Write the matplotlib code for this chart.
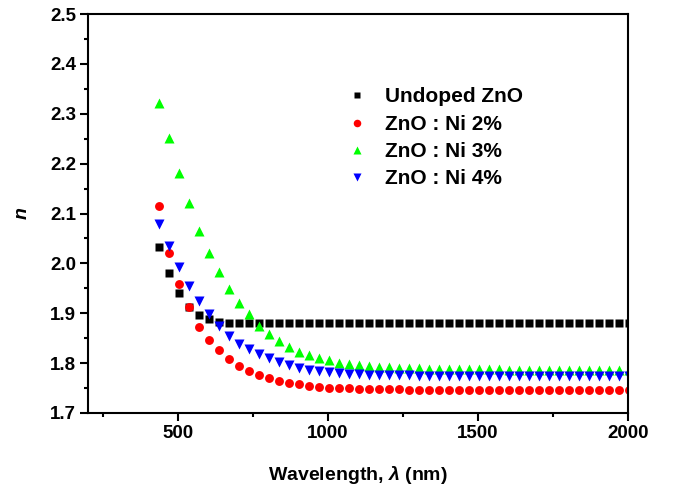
import matplotlib
matplotlib.use('Agg')
import matplotlib.pyplot as plt
from matplotlib.ticker import MultipleLocator

plt.rcParams['font.family'] = ['Liberation Sans', 'DejaVu Sans']
plt.rcParams['font.weight'] = 'bold'
plt.rcParams['mathtext.fontset'] = 'custom'
plt.rcParams['mathtext.it'] = 'Liberation Sans:bold:italic'
plt.rcParams['mathtext.rm'] = 'Liberation Sans:bold'

# wavelength (nm)
wavelength = [437, 470, 503, 537, 570, 603, 637, 670, 703, 737, 770, 803,
              837, 870, 903, 937, 970, 1003, 1037, 1070, 1103, 1137, 1170, 1203,
              1237, 1270, 1303, 1337, 1370, 1403, 1437, 1470, 1503, 1537, 1570, 1603,
              1637, 1670, 1703, 1737, 1770, 1803, 1837, 1870, 1903, 1937, 1970, 2003]

# refractive index n
undoped = [2.032, 1.980, 1.940, 1.912, 1.897, 1.889, 1.882, 1.880, 1.880, 1.880, 1.880, 1.880,
           1.880, 1.880, 1.880, 1.880, 1.880, 1.880, 1.880, 1.880, 1.880, 1.880, 1.880, 1.880,
           1.880, 1.880, 1.880, 1.880, 1.880, 1.880, 1.880, 1.880, 1.880, 1.880, 1.880, 1.880,
           1.880, 1.880, 1.880, 1.880, 1.880, 1.880, 1.880, 1.880, 1.880, 1.880, 1.880, 1.880]
ni2 = [2.115, 2.020, 1.958, 1.912, 1.873, 1.847, 1.827, 1.809, 1.795, 1.785, 1.777, 1.771,
       1.765, 1.761, 1.758, 1.755, 1.753, 1.751, 1.750, 1.750, 1.749, 1.749, 1.748, 1.748,
       1.748, 1.747, 1.747, 1.747, 1.747, 1.747, 1.746, 1.746, 1.746, 1.746, 1.746, 1.746,
       1.746, 1.746, 1.746, 1.746, 1.746, 1.746, 1.746, 1.746, 1.746, 1.746, 1.746, 1.746]
ni3 = [2.322, 2.251, 2.181, 2.121, 2.066, 2.020, 1.982, 1.948, 1.920, 1.898, 1.875, 1.859,
       1.845, 1.833, 1.823, 1.817, 1.811, 1.806, 1.801, 1.798, 1.796, 1.794, 1.793, 1.792,
       1.791, 1.790, 1.790, 1.789, 1.789, 1.789, 1.788, 1.788, 1.788, 1.788, 1.788, 1.787,
       1.787, 1.787, 1.787, 1.787, 1.787, 1.787, 1.787, 1.787, 1.787, 1.787, 1.787, 1.787]
ni4 = [2.080, 2.034, 1.992, 1.954, 1.924, 1.898, 1.875, 1.855, 1.839, 1.829, 1.818, 1.810,
       1.802, 1.796, 1.791, 1.787, 1.784, 1.782, 1.780, 1.779, 1.778, 1.777, 1.777, 1.776,
       1.776, 1.776, 1.775, 1.775, 1.775, 1.775, 1.775, 1.775, 1.774, 1.774, 1.774, 1.774,
       1.774, 1.774, 1.774, 1.774, 1.774, 1.774, 1.774, 1.774, 1.774, 1.774, 1.774, 1.774]

fig = plt.figure(figsize=(6.75, 4.87), dpi=100)
ax = fig.add_axes([0.130, 0.152, 0.800, 0.819])

ax.plot(wavelength, undoped, 's', color='black', ms=5.5, mec='none', label='Undoped ZnO')
ax.plot(wavelength, ni2, 'o', color='#ff0000', ms=6.4, mec='none', label='ZnO : Ni 2%')
ax.plot(wavelength, ni3, '^', color='#00ff00', ms=7.5, mec='none', label='ZnO : Ni 3%')
ax.plot(wavelength, ni4, 'v', color='#0000ff', ms=7.5, mec='none', label='ZnO : Ni 4%')

ax.set_xlim(200, 2000)
ax.set_ylim(1.7, 2.5)
ax.xaxis.set_major_locator(MultipleLocator(500))
ax.xaxis.set_minor_locator(MultipleLocator(250))
ax.yaxis.set_major_locator(MultipleLocator(0.1))
ax.yaxis.set_minor_locator(MultipleLocator(0.05))
ax.set_xticks([500, 1000, 1500, 2000])
ax.tick_params(which='major', direction='out', length=5.5, width=1.5, labelsize=13.5, pad=3)
ax.tick_params(which='minor', direction='out', length=3, width=1.5)
ax.tick_params(top=False, right=False, which='both')
for s in ax.spines.values():
    s.set_linewidth(1.5)

ax.set_xlabel(r'Wavelength, $\mathit{\lambda}$ (nm)', fontsize=14, fontweight='bold', labelpad=16)
ax.set_ylabel('n', fontsize=14, fontweight='bold', style='italic', labelpad=14)

ax.legend(loc='upper left', bbox_to_anchor=(0.464, 0.837), frameon=False, fontsize=15,
          handlelength=1.0, handletextpad=0.85, labelspacing=0.4, borderaxespad=0,
          markerscale=0.85)

fig.savefig('out.png', dpi=100)
